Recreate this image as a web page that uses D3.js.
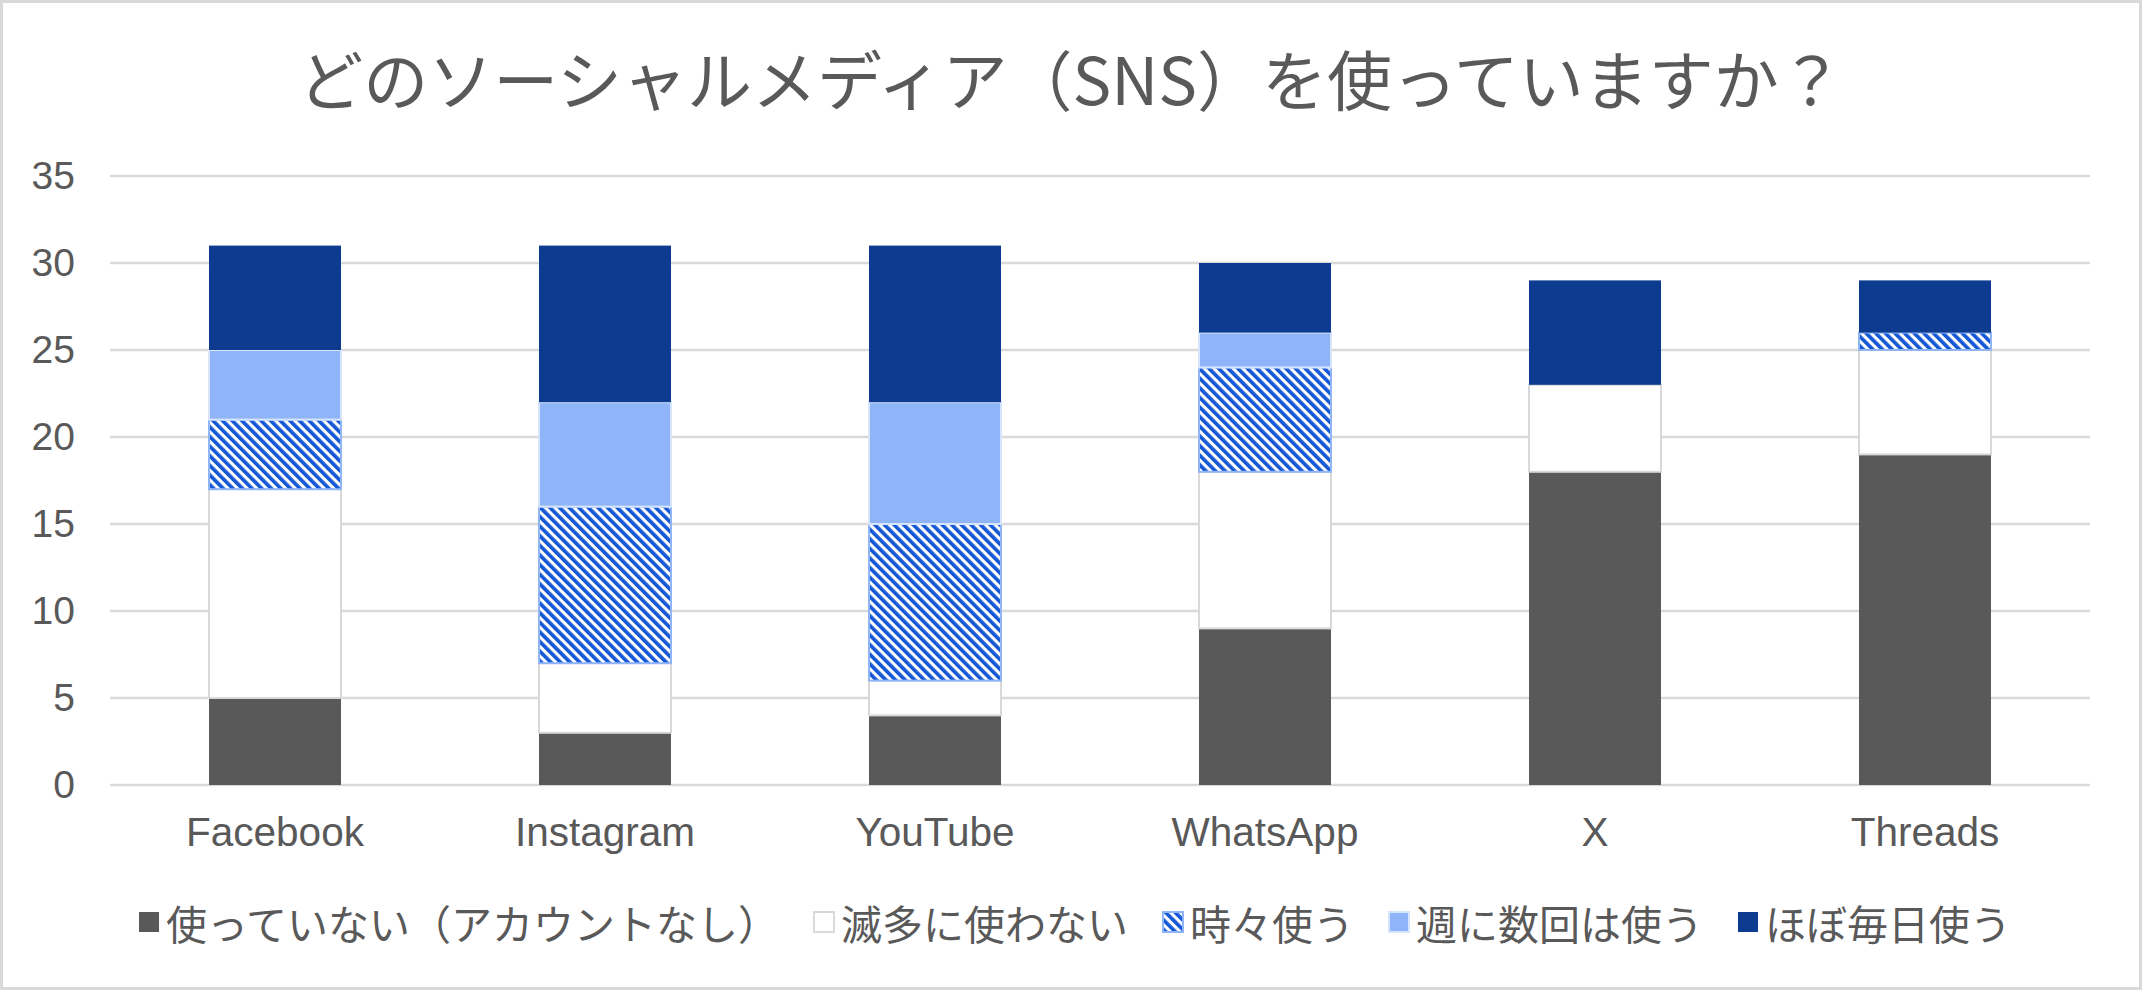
<!DOCTYPE html>
<html>
<head>
<meta charset="utf-8">
<script src="https://cdn.jsdelivr.net/npm/d3@7"></script>
<style>
  body { margin: 0; background: #fff; }
  svg text { font-family: "Liberation Sans", Arial, "Noto Sans CJK JP", sans-serif; fill: #595959; }
</style>
</head>
<body>
<svg id="chart"></svg>
<script>
// Chart data
const platforms = ["Facebook", "Instagram", "YouTube", "WhatsApp", "X", "Threads"];
const notUsed = [5, 3, 4, 9, 18, 19];
const rarelyUsed = [12, 4, 2, 9, 5, 6];
const sometimesUsed = [4, 9, 9, 6, 0, 1];
const weeklyUsed = [4, 6, 7, 2, 0, 0];
const dailyUsed = [6, 9, 9, 4, 6, 3];
const seriesNames = ["使っていない（アカウントなし）", "滅多に使わない", "時々使う", "週に数回は使う", "ほぼ毎日使う"];
const yTicks = [0, 5, 10, 15, 20, 25, 30, 35];
const chartTitle = "どのソーシャルメディア（SNS）を使っていますか？";

class StackedBar {
  constructor(_config) {
    this.config = {
      parentElement: _config.parentElement,
      containerWidth: _config.containerWidth || 2142,
      containerHeight: _config.containerHeight || 990,
      margin: _config.margin || { top: 176, right: 52, bottom: 205, left: 110 },
    };
    this.initVis();
  }

  initVis() {
    const vis = this;

    vis.config.width = vis.config.containerWidth - vis.config.margin.left - vis.config.margin.right;
    vis.config.height = vis.config.containerHeight - vis.config.margin.top - vis.config.margin.bottom;

    vis.svg = d3.select(vis.config.parentElement)
      .attr("width", vis.config.containerWidth)
      .attr("height", vis.config.containerHeight);

    // striped fill for the "sometimes" series
    const defs = vis.svg.append("defs");
    const pat = defs.append("pattern")
      .attr("id", "stripes")
      .attr("patternUnits", "userSpaceOnUse")
      .attr("width", 6.8)
      .attr("height", 6.8)
      .attr("patternTransform", "rotate(-45)");
    pat.append("rect").attr("width", 6.8).attr("height", 6.8).attr("fill", "#fff");
    pat.append("rect").attr("width", 3.7).attr("height", 6.8).attr("fill", "#1558d6");

    // outer border
    vis.svg.append("rect")
      .attr("x", 1.5).attr("y", 1.5)
      .attr("width", vis.config.containerWidth - 3)
      .attr("height", vis.config.containerHeight - 3)
      .attr("fill", "#fff")
      .attr("stroke", "#d9d9d9")
      .attr("stroke-width", 3);

    vis.svg.append("text")
      .attr("x", vis.config.containerWidth / 2)
      .attr("y", 77)
      .attr("text-anchor", "middle")
      .attr("dominant-baseline", "central")
      .style("font-size", "65px")
      .style("font-family", "'Noto Sans CJK JP', sans-serif")
      .text(chartTitle);

    vis.chartArea = vis.svg.append("g")
      .attr("transform", `translate(${vis.config.margin.left},${vis.config.margin.top})`);

    vis.colors = ["#595959", "#ffffff", "url(#stripes)", "#8fb4f8", "#0c3b8f"];
    vis.strokes = ["none", "#d9d9d9", "#8fb4f8", "#d6e4fd", "none"];

    vis.xScale = d3.scaleBand()
      .range([0, vis.config.width])
      .paddingInner(0.6)
      .paddingOuter(0.3);

    vis.yScale = d3.scaleLinear().range([vis.config.height, 0]);

    vis.gridG = vis.chartArea.append("g").attr("class", "grid");
    vis.barsG = vis.chartArea.append("g").attr("class", "bars");
    vis.xAxisG = vis.chartArea.append("g")
      .attr("class", "axis x-axis")
      .attr("transform", `translate(0,${vis.config.height})`);
    vis.yAxisG = vis.chartArea.append("g").attr("class", "axis y-axis");

    vis.legendG = vis.svg.append("g").attr("class", "legend");

    vis.updateVis();
  }

  updateVis() {
    const vis = this;

    vis.data = platforms.map((p, i) => ({
      name: p,
      s0: notUsed[i],
      s1: rarelyUsed[i],
      s2: sometimesUsed[i],
      s3: weeklyUsed[i],
      s4: dailyUsed[i],
    }));
    vis.keys = ["s0", "s1", "s2", "s3", "s4"];
    vis.stacked = d3.stack().keys(vis.keys)(vis.data);

    vis.xScale.domain(platforms);
    vis.yScale.domain([0, 35]);

    vis.renderVis();
  }

  renderVis() {
    const vis = this;

    // gridlines
    vis.gridG.selectAll("line")
      .data(yTicks)
      .join("line")
      .attr("x1", 0)
      .attr("x2", vis.config.width)
      .attr("y1", (d) => vis.yScale(d))
      .attr("y2", (d) => vis.yScale(d))
      .attr("stroke", "#d9d9d9")
      .attr("stroke-width", 2.5);

    // stacked segments
    const layer = vis.barsG.selectAll(".layer")
      .data(vis.stacked)
      .join("g")
      .attr("class", "layer")
      .attr("fill", (d, i) => vis.colors[i])
      .attr("stroke", (d, i) => vis.strokes[i])
      .attr("stroke-width", 2);

    layer.selectAll("rect")
      .data((d) => d.filter((s) => s[1] - s[0] > 0))
      .join("rect")
      .attr("x", (d) => vis.xScale(d.data.name))
      .attr("width", vis.xScale.bandwidth())
      .attr("y", (d) => vis.yScale(d[1]))
      .attr("height", (d) => vis.yScale(d[0]) - vis.yScale(d[1]));

    // axes
    const xAxis = d3.axisBottom(vis.xScale).tickSize(0).tickPadding(32);
    vis.xAxisG.call(xAxis);
    vis.xAxisG.select(".domain").remove();
    vis.xAxisG.selectAll("text")
      .style("font-size", "40.5px")
      .attr("fill", "#595959");

    const yAxis = d3.axisLeft(vis.yScale).tickValues(yTicks).tickSize(0).tickPadding(35);
    vis.yAxisG.call(yAxis);
    vis.yAxisG.select(".domain").remove();
    vis.yAxisG.selectAll("text")
      .style("font-size", "39px")
      .attr("fill", "#595959");

    // legend
    const item = vis.legendG.selectAll(".legend-item")
      .data(seriesNames)
      .join("g")
      .attr("class", "legend-item");

    item.append("rect")
      .attr("x", 0)
      .attr("y", -10)
      .attr("width", 20)
      .attr("height", 20)
      .attr("fill", (d, i) => vis.colors[i])
      .attr("stroke", (d, i) => vis.strokes[i] === "none" ? null : vis.strokes[i])
      .attr("stroke-width", 2);

    item.append("text")
      .attr("x", 27)
      .attr("y", 0)
      .attr("dominant-baseline", "central")
      .style("font-size", "41px")
      .style("font-family", "'Noto Sans CJK JP', sans-serif")
      .text((d) => d);

    let offset = 0;
    const widths = [];
    item.each(function () {
      const w = 27 + d3.select(this).select("text").node().getComputedTextLength();
      widths.push(w);
    });
    const gap = 35;
    const total = d3.sum(widths) + gap * (widths.length - 1);
    const start = vis.config.containerWidth / 2 - total / 2 + 4;
    item.attr("transform", (d, i) => {
      const x = start + offset;
      offset += widths[i] + gap;
      return `translate(${x},922)`;
    });
  }
}

new StackedBar({ parentElement: "#chart" });
</script>
</body>
</html>
